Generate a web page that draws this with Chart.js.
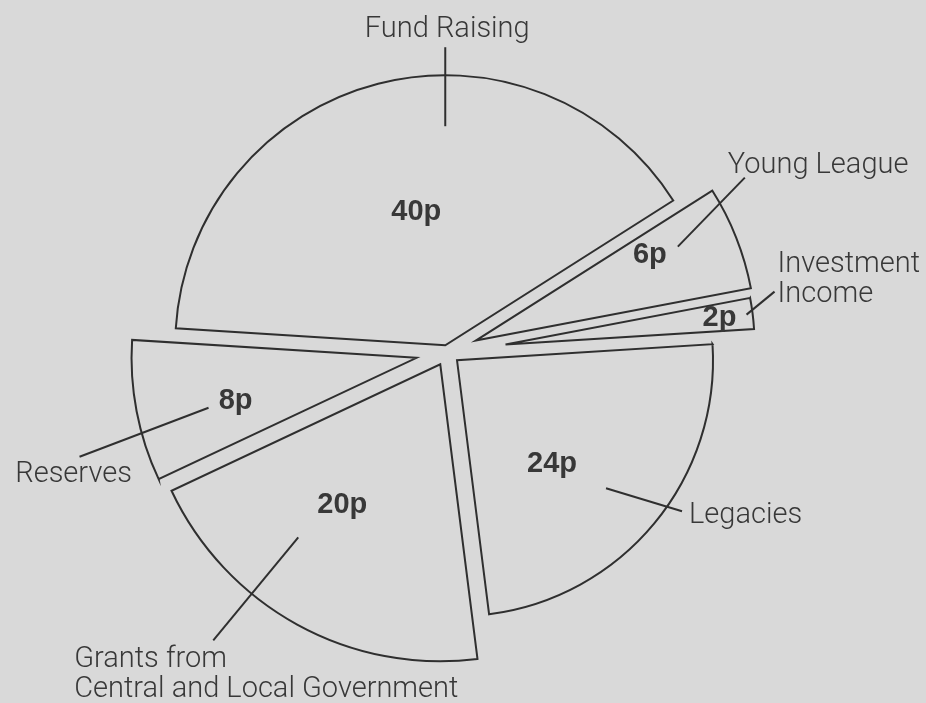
<!DOCTYPE html>
<html>
<head>
<meta charset="utf-8">
<title>Where each pound comes from</title>
<script src="https://cdn.jsdelivr.net/npm/chart.js@4.4.0/dist/chart.umd.min.js"></script>
<style>
  html, body { margin: 0; padding: 0; background: #d9d9d9; }
  #wrap { width: 926px; height: 703px; }
</style>
</head>
<body>
<div id="wrap"><canvas id="incomeChart" width="926" height="703"></canvas></div>
<script>
    // slices go clockwise from 9 o'clock
    const categories = ['Fund Raising', 'Young League', 'Investment Income', 'Legacies',
      'Grants from Central and Local Government', 'Reserves'];
    const pence = [40, 6, 2, 24, 20, 8];
    const labelLines = [
      ['Fund Raising'],
      ['Young League'],
      ['Investment', 'Income'],
      ['Legacies'],
      ['Grants from', 'Central and Local Government'],
      ['Reserves'],
    ];

    // drawing style, not data: how far each slice is pulled out (px) and how big it is drawn
    const pullOut = [7, 31, 59, 13, 14, 31];
    const sliceRadius = [270, 280, 249, 256, 297, 285];

    // where the labels sit, measured from the tip of each slice
    const notes = [
      { value: [-29, -133], line: [[0, -219], [0, -298]], text: [2, -10], align: 'center' },
      { value: [174, -86], line: [[202, -94], [269, -163]], text: [-17, -5], align: 'left' },
      { value: [214, -27], line: [[241, -30], [269, -53]], text: [3, -20], align: 'left' },
      { value: [95, 104], line: [[149, 128], [225, 151]], text: [7, 12], align: 'left' },
      { value: [-98, 141], line: [[-142, 173], [-227, 276]], text: [-139, 27], align: 'left' },
      { value: [-181, 43], line: [[-208, 50], [-337, 99]], text: [-6, 25], align: 'center' },
    ];

    const ink = '#2f2f2f';
    const textInk = '#383838';
    const valueFont = 'bold 29px "Liberation Sans", Arial, sans-serif';
    const labelFont = '300 29px Roboto, "Open Sans", sans-serif';
    const lineGap = 30;

    // the original pulls every slice out by its own amount and draws it at its own size
    const explode = {
      id: 'explode',
      afterDatasetsUpdate(chart) {
        chart.getDatasetMeta(0).data.forEach((arc, i) => {
          const mid = (arc.startAngle + arc.endAngle) / 2;
          arc.x += Math.cos(mid) * pullOut[i];
          arc.y += Math.sin(mid) * pullOut[i];
          arc.outerRadius = sliceRadius[i];
        });
      }
    };

    const annotations = {
      id: 'annotations',
      afterDatasetsDraw(chart) {
        const ctx = chart.ctx;
        chart.getDatasetMeta(0).data.forEach((arc, i) => {
          const tip = { x: arc.x, y: arc.y };
          const n = notes[i];
          ctx.save();

          ctx.fillStyle = textInk;
          ctx.font = valueFont;
          ctx.textAlign = 'center';
          ctx.textBaseline = 'middle';
          ctx.fillText(pence[i] + 'p', tip.x + n.value[0], tip.y + n.value[1]);

          const a = { x: tip.x + n.line[0][0], y: tip.y + n.line[0][1] };
          const b = { x: tip.x + n.line[1][0], y: tip.y + n.line[1][1] };
          ctx.strokeStyle = ink;
          ctx.lineWidth = 2;
          ctx.beginPath();
          ctx.moveTo(a.x, a.y);
          ctx.lineTo(b.x, b.y);
          ctx.stroke();

          ctx.font = labelFont;
          ctx.textAlign = n.align;
          ctx.textBaseline = 'alphabetic';
          labelLines[i].forEach((line, k) => {
            ctx.fillText(line, b.x + n.text[0], b.y + n.text[1] + k * lineGap);
          });
          ctx.restore();
        });
      }
    };

    const ctxIncome = document.getElementById('incomeChart').getContext('2d');
    const incomeChart = new Chart(ctxIncome, {
      type: 'pie',
      data: {
        labels: categories,
        datasets: [{
          data: pence,
          backgroundColor: 'rgba(0,0,0,0)',
          borderColor: ink,
          borderWidth: 2,
          borderJoinStyle: 'miter',
          offset: 0,
          hoverOffset: 0,
        }],
      },
      options: {
        responsive: false,
        animation: false,
        events: [],
        rotation: -86.4,
        layout: { padding: { left: 0, right: 32, top: 1, bottom: 0 } },
        plugins: {
          legend: { display: false },
          tooltip: { enabled: false },
        },
      },
      plugins: [explode, annotations],
    });
</script>
</body>
</html>
